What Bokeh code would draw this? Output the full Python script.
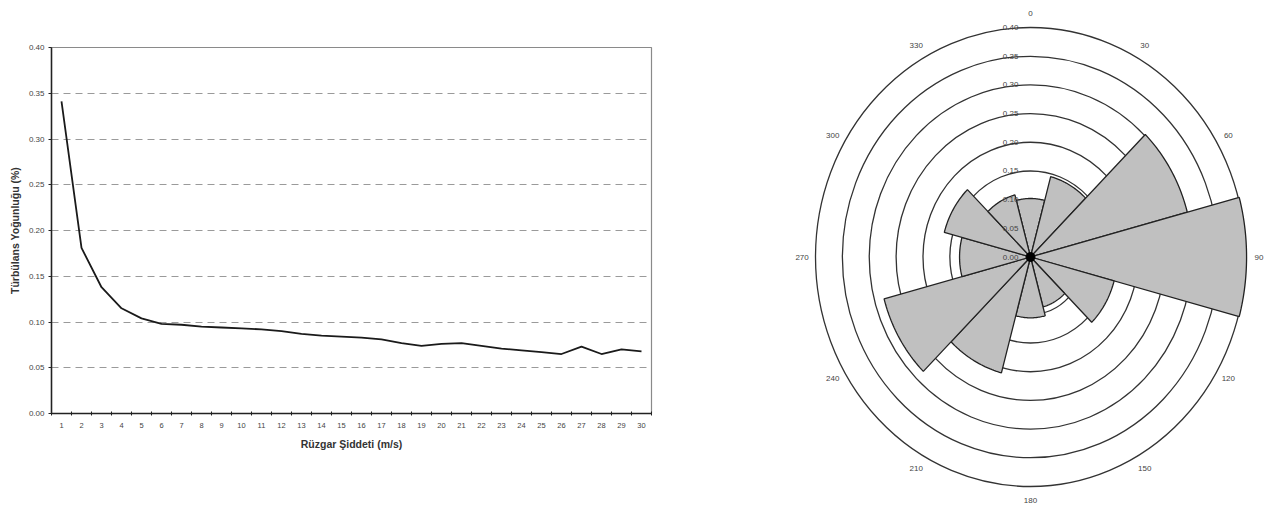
import numpy as np
from bokeh.plotting import figure
from bokeh.layouts import row
from bokeh.models import FixedTicker, NumeralTickFormatter, Range1d
from bokeh.core.properties import value
from bokeh.embed import file_html
from bokeh.resources import INLINE

# ---- data: line chart ----
wind_speed = list(range(1, 31))
turbulence = [0.341, 0.181, 0.138, 0.115, 0.104, 0.098, 0.097, 0.095, 0.094, 0.093,
              0.092, 0.090, 0.087, 0.085, 0.084, 0.083, 0.081, 0.077, 0.074, 0.076,
              0.077, 0.074, 0.071, 0.069, 0.067, 0.065, 0.073, 0.065, 0.070, 0.068]
y_ticks = [0.00, 0.05, 0.10, 0.15, 0.20, 0.25, 0.30, 0.35, 0.40]

# ---- data: polar (rose) chart ----
directions = [0, 30, 60, 90, 120, 150, 180, 210, 240, 270, 300, 330]
rose_values = [0.102, 0.145, 0.302, 0.402, 0.161, 0.090, 0.106, 0.209, 0.282, 0.132, 0.166, 0.112]
ring_values = [0.05, 0.10, 0.15, 0.20, 0.25, 0.30, 0.35, 0.40]
ring_labels = ["0.00", "0.05", "0.10", "0.15", "0.20", "0.25", "0.30", "0.35", "0.40"]
dir_labels = [str(d) for d in directions]

FONT = "Liberation Sans"
H = 505

# ================= left: line chart =================
p1 = figure(width=700, height=H, output_backend="svg", toolbar_location=None,
            x_range=Range1d(0.5, 30.5), y_range=Range1d(0, 0.40),
            min_border_left=51, min_border_top=47, min_border_bottom=H - 413, min_border_right=49)
p1.line(wind_speed, turbulence, line_color="#1a1a1a", line_width=1.8)

p1.xaxis.ticker = FixedTicker(ticks=wind_speed, minor_ticks=list(np.arange(0.5, 31, 1.0)))
p1.xaxis.major_tick_in = 0
p1.xaxis.major_tick_out = 0
p1.xaxis.minor_tick_in = 2
p1.xaxis.minor_tick_out = 2
p1.xaxis.minor_tick_line_color = "#222222"
p1.xaxis.axis_label = "Rüzgar Şiddeti (m/s)"
p1.yaxis.ticker = FixedTicker(ticks=y_ticks)
p1.yaxis.formatter = NumeralTickFormatter(format="0.00")
p1.yaxis.minor_tick_line_color = None
p1.yaxis.major_tick_in = 0
p1.yaxis.major_tick_out = 3
p1.yaxis.axis_label = "Türbülans Yoğunluğu (%)"

for ax in (p1.xaxis, p1.yaxis):
    ax.axis_line_color = "#222222"
    ax.axis_line_width = 1.5
    ax.major_tick_line_color = "#222222"
    ax.major_label_text_font = FONT
    ax.major_label_text_color = "#444444"
    ax.axis_label_text_font = FONT
    ax.axis_label_text_font_size = "10.5px"
    ax.axis_label_text_font_style = "bold"
    ax.axis_label_text_color = "#333333"
p1.xaxis.major_label_text_font_size = "7.5px"
p1.yaxis.major_label_text_font_size = "8px"
p1.xaxis.major_label_standoff = 7
p1.xaxis.axis_label_standoff = 7
p1.yaxis.major_label_standoff = 4
p1.yaxis.axis_label_standoff = 5

p1.xgrid.grid_line_color = None
p1.ygrid.ticker = FixedTicker(ticks=y_ticks[1:-1])
p1.ygrid.grid_line_color = "#9a9a9a"
p1.ygrid.grid_line_dash = "7 5"
p1.ygrid.grid_line_width = 1
p1.outline_line_color = "#8a8a8a"
p1.outline_line_width = 1.2
p1.frame_align = False

# ================= right: polar chart =================
W2 = 575
cx_px, cy_px = 330.0, 256.5
sx, sy = 537.5, 573.75   # pixels per data unit (horizontal, vertical)
p2 = figure(width=W2, height=H, output_backend="svg", toolbar_location=None,
            x_range=Range1d(-cx_px / sx, (W2 - cx_px) / sx),
            y_range=Range1d(-(H - cy_px) / sy, cy_px / sy),
            min_border=0, min_border_left=0, min_border_right=0,
            min_border_top=0, min_border_bottom=0)
p2.axis.visible = False
p2.grid.grid_line_color = None
p2.outline_line_color = None
p2.frame_align = False

# rings
p2.ellipse(x=[0] * len(ring_values), y=[0] * len(ring_values),
           width=[2 * r for r in ring_values], height=[2 * r for r in ring_values],
           fill_color=None, line_color="#333333", line_width=1.3)

# wedges (30 degree sectors centred on each compass direction)
xs, ys = [], []
for d, v in zip(directions, rose_values):
    th = np.radians(np.linspace(d - 15, d + 15, 31))
    xs.append([0.0] + list(v * np.sin(th)) + [0.0])
    ys.append([0.0] + list(v * np.cos(th)) + [0.0])
p2.patches(xs, ys, fill_color="#c0c0c0", line_color="#222222", line_width=1.3)

# centre dot
p2.scatter([0], [0], size=9, color="black")

# ring value labels along north axis
p2.text(x=[-0.037] * len(ring_labels), y=[0.0] + ring_values, text=ring_labels,
        text_font=value(FONT), text_font_size="8px", text_color="#444444",
        text_align="center", text_baseline="middle")

# direction labels
lab_r = 0.425
p2.text(x=[lab_r * np.sin(np.radians(d)) for d in directions],
        y=[lab_r * np.cos(np.radians(d)) for d in directions],
        text=dir_labels, text_font=value(FONT), text_font_size="8px",
        text_color="#444444", text_align="center", text_baseline="middle")

layout = row(p1, p2)
open("out.html", "w").write(file_html(layout, INLINE))
